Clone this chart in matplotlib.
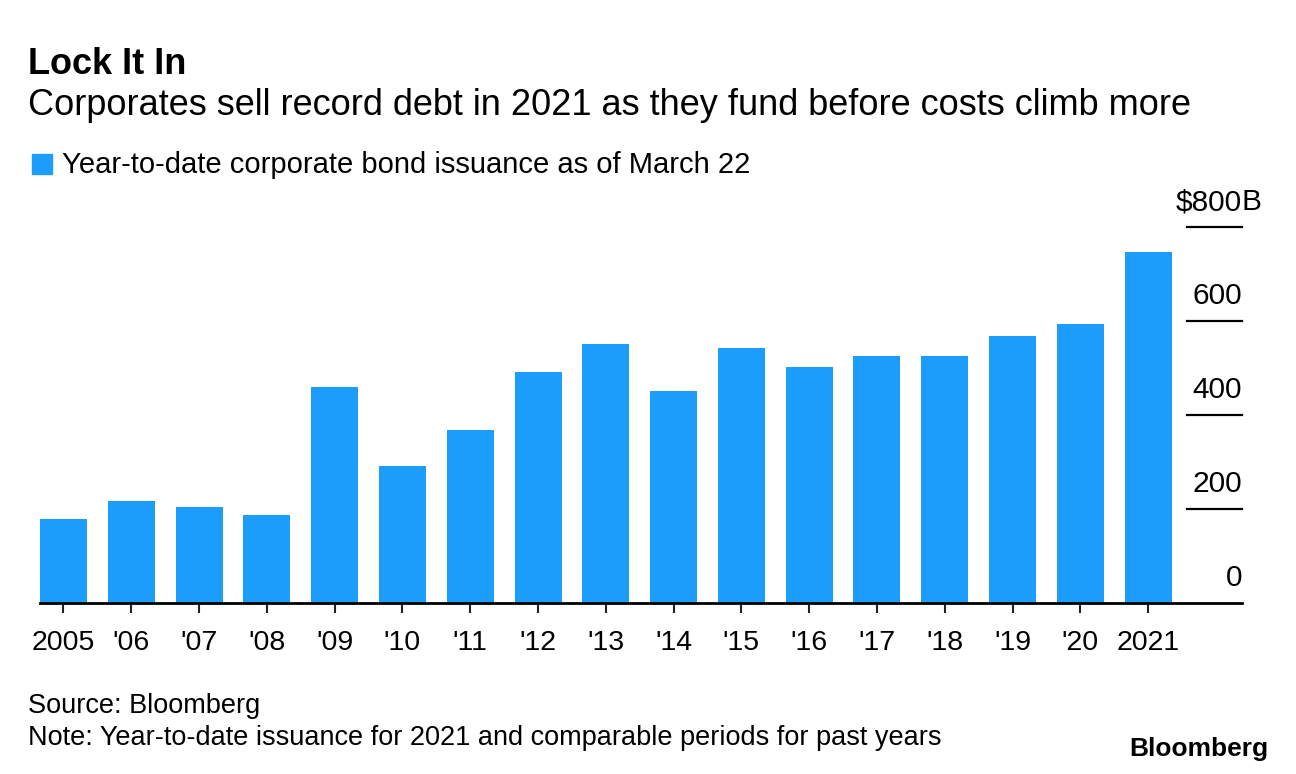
import matplotlib
matplotlib.use("Agg")
import matplotlib.pyplot as plt
from matplotlib.patches import Rectangle
import matplotlib.transforms as mtransforms

plt.rcParams['font.family'] = ['Liberation Sans', 'DejaVu Sans']

# ---- data ----
years = ['2005', "'06", "'07", "'08", "'09", "'10", "'11", "'12", "'13",
         "'14", "'15", "'16", "'17", "'18", "'19", "'20", '2021']
issuance = [179, 217, 204, 187, 460, 291, 368, 491, 551,
            451, 543, 502, 526, 526, 568, 594, 747]
y_ticks = [0, 200, 400, 600, 800]
y_tick_labels = ['0', '200', '400', '600', '$800']

BLUE = '#1c9cfb'
W, H = 1296, 774
fig = plt.figure(figsize=(W / 100, H / 100), dpi=100)

ax = fig.add_axes([40 / W, 1 - 603 / H, (1242 - 40) / W, (603 - 227) / H])
x = list(range(len(years)))
bw = 0.693
ax.bar(x, issuance, width=bw, color=BLUE, zorder=2)
ax.set_xlim(-bw / 2, 17.385)
ax.set_ylim(0, 800)

for s in ['top', 'right', 'left']:
    ax.spines[s].set_visible(False)
ax.spines['bottom'].set_linewidth(2)
ax.spines['bottom'].set_color('black')
ax.spines['bottom'].set_zorder(3)

ax.set_xticks(x)
ax.set_xticklabels(years, fontsize=20.5)
ax.tick_params(axis='x', length=7.5, width=1.5, color='#222222', pad=12)
ax.set_yticks([])

# right-side short gridlines and labels
for v, lab in zip(y_ticks, y_tick_labels):
    if v > 0:
        ax.axhline(v, xmin=0.954, xmax=1.0, color='black', lw=1.6, zorder=3,
                   clip_on=False)
    tr = mtransforms.offset_copy(ax.get_yaxis_transform(), fig=fig, x=0, y=12, units='points')
    ax.text(1.0, v, lab, transform=tr, ha='right', va='baseline', fontsize=21.5)
    if v == 800:
        ax.text(1.0, v, 'B', transform=tr, ha='left', va='baseline', fontsize=21.5)

# titles
fig.text(28 / W, 1 - 74 / H, 'Lock It In', fontsize=26, fontweight='bold', va='baseline')
fig.text(28 / W, 1 - 115 / H,
         'Corporates sell record debt in 2021 as they fund before costs climb more',
         fontsize=26, va='baseline')

# legend
fig.patches.append(Rectangle((32 / W, 1 - 174 / H), 20 / W, 20 / H,
                             transform=fig.transFigure, color=BLUE))
fig.text(62 / W, 1 - 173 / H, 'Year-to-date corporate bond issuance as of March 22',
         fontsize=21, va='baseline')

# footer
fig.text(28 / W, 1 - 713 / H, 'Source: Bloomberg', fontsize=19.5, va='baseline')
fig.text(28 / W, 1 - 745 / H,
         'Note: Year-to-date issuance for 2021 and comparable periods for past years',
         fontsize=19.5, va='baseline')
fig.text(1268 / W, 1 - 756 / H, 'Bloomberg', fontsize=19, fontweight='bold',
         ha='right', va='baseline')

fig.savefig('out.png', dpi=100, facecolor='white')
